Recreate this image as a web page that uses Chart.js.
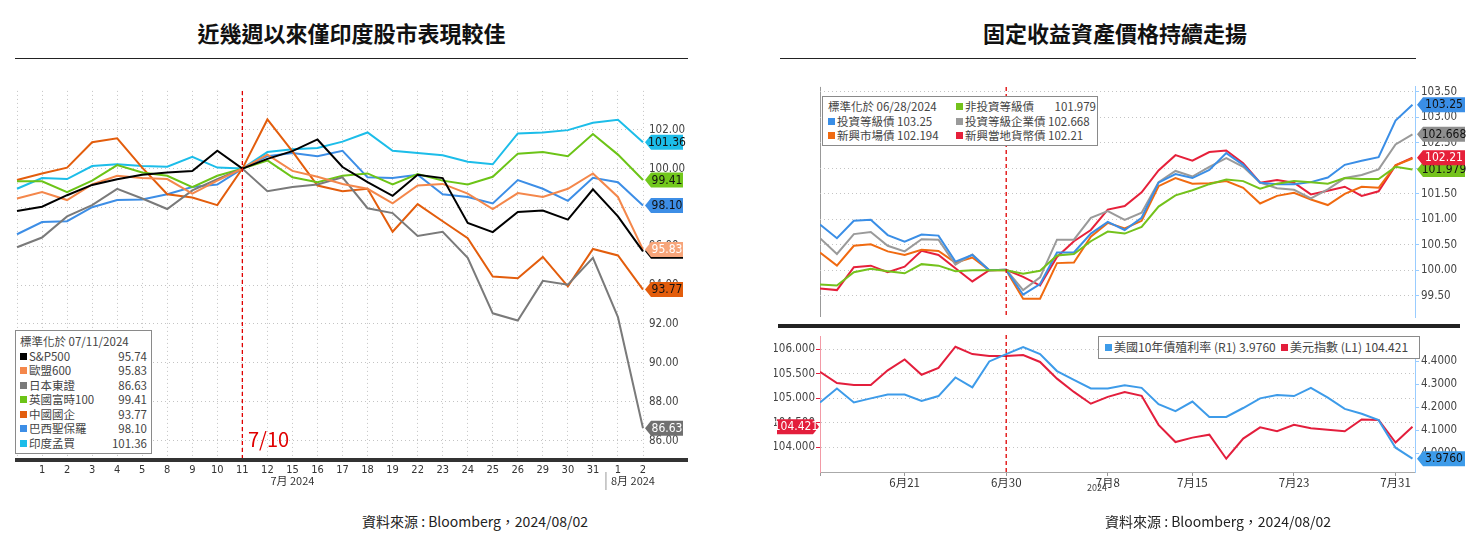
<!DOCTYPE html>
<html><head><meta charset="utf-8">
<script src="https://cdn.jsdelivr.net/npm/chart.js@4"></script>
<style>
body{margin:0;width:1467px;height:537px;background:#fff;position:relative;overflow:hidden;font-family:"Noto Sans CJK TC","Noto Sans",sans-serif;color:#222}
.abs{position:absolute}
.title{top:16px;font-size:22px;font-weight:bold;text-align:center;color:#111}
.rule{height:1px;background:#222;top:58px}
.src{top:511px;font-size:14px;color:#222}
.box{background:#fff;border:1px solid #8a8a8a;font-size:11.5px;line-height:14.5px;color:#444;box-sizing:border-box}
.sq{display:inline-block;width:7px;height:7px;margin-right:2px;vertical-align:1px}
.row{display:flex;justify-content:space-between;white-space:nowrap}
</style></head><body>

<div class="abs title" style="left:15px;width:673px">近幾週以來僅印度股市表現較佳</div>
<div class="abs rule" style="left:15px;width:673px"></div>
<div class="abs title" style="left:780px;width:670px">固定收益資產價格持續走揚</div>
<div class="abs rule" style="left:780px;width:636px"></div>

<div class="abs" style="left:15px;top:78px;width:673px;height:412px"><canvas id="eq"></canvas></div>
<div class="abs" style="left:774px;top:78px;width:693px;height:248px"><canvas id="bond"></canvas></div>
<div class="abs" style="left:778px;top:324px;width:682px;height:4px;background:#222"></div>
<div class="abs" style="left:774px;top:328px;width:693px;height:162px"><canvas id="macro"></canvas></div>

<div class="abs box" id="eqLegend" style="left:15px;top:330px;width:137px;padding:3px 4px"></div>
<div class="abs box" id="bondLegend" style="left:822px;top:96px;width:276px;padding:2px 5px"></div>
<div class="abs box" id="macroLegend" style="left:1098px;top:336px;width:322px;padding:3px 6px;font-size:12px"></div>
<div class="abs" style="left:248px;top:424px;font-size:20px;color:#e00000">7/10</div>
<div class="abs" style="left:1087px;top:481px;font-size:9px;color:#444">2024</div>

<div class="abs src" style="left:362px">資料來源 : Bloomberg，2024/08/02</div>
<div class="abs src" style="left:1105px">資料來源 : Bloomberg，2024/08/02</div>

<script>
// ---- left chart: equity indices, normalised ----
const eqDays = ['', '1', '2', '3', '4', '5', '8', '9', '10', '11', '12', '15', '16', '17', '18', '19', '22', '23', '24', '25', '26', '29', '30', '31', '1', '2'];
const eqNames = ['S&P500', '歐盟600', '日本東證', '英國富時100', '中國國企', '巴西聖保羅', '印度孟買'];
const eqColors = ['#000000', '#f4874b', '#7a7a7a', '#6cc417', '#e35d0c', '#3d8ee6', '#1cbde9'];
const spx = [97.82, 98.04, 98.63, 99.16, 99.45, 99.68, 99.80, 99.88, 100.92, 100, 100.5, 100.9, 101.5, 100.08, 99.3, 98.6, 99.68, 99.51, 97.2, 96.73, 97.77, 97.84, 97.37, 98.93, 97.54, 95.74];
const stoxx = [98.46, 98.79, 98.38, 99.18, 99.63, 99.51, 99.46, 98.71, 99.38, 100, 100.72, 99.88, 99.58, 99.21, 98.96, 98.21, 99.13, 99.21, 98.71, 97.92, 98.74, 98.54, 98.96, 99.75, 98.54, 95.83];
const topix = [95.95, 96.45, 97.54, 98.12, 98.96, 98.46, 97.92, 98.88, 99.46, 100, 98.84, 99.05, 99.18, 99.55, 97.96, 97.71, 96.53, 96.75, 95.41, 92.55, 92.18, 94.22, 94.02, 95.41, 92.35, 86.63];
const ftse = [99.35, 99.35, 98.79, 99.38, 100.18, 99.8, 99.63, 99.05, 99.63, 100, 100.42, 99.55, 99.3, 99.63, 99.75, 99.18, 99.72, 99.38, 99.18, 99.58, 100.77, 100.85, 100.64, 101.78, 100.72, 99.41];
const hscei = [99.41, 99.75, 100.05, 101.36, 101.56, 100.05, 98.68, 98.51, 98.12, 100, 102.53, 100.89, 99.13, 98.84, 98.96, 96.75, 98.17, 97.29, 96.42, 94.44, 94.36, 95.45, 93.94, 95.86, 95.53, 93.77];
const bovespa = [96.62, 97.25, 97.29, 98.01, 98.38, 98.41, 98.68, 99.05, 99.18, 100, 100.64, 100.8, 100.64, 100.92, 99.55, 99.51, 99.68, 98.68, 98.54, 98.21, 99.41, 98.96, 98.34, 99.53, 99.3, 98.10];
const sensex = [98.96, 99.51, 99.46, 100.13, 100.22, 100.13, 100.1, 100.6, 100.05, 100, 100.85, 101.0, 101.06, 101.39, 101.86, 100.92, 100.8, 100.69, 100.35, 100.22, 101.81, 101.86, 101.98, 102.36, 102.51, 101.36];
const eqSeries = [spx, stoxx, topix, ftse, hscei, bovespa, sensex];
const eqTicks = [86, 88, 90, 92, 94, 96, 98, 100, 102];

// ---- right top: fixed income, normalised ----
const fiDates = ['', '', '', '', '', '6月21', '', '', '', '', '', '6月30', '', '', '', '', '', '7月8', '', '', '', '', '7月15', '', '', '', '', '', '7月23', '', '', '', '', '', '7月31', ''];
const fiNames = ['非投資等級債', '投資等級債', '投資等級企業債', '新興市場債', '新興當地貨幣債'];
const fiColors = ['#74c21c', '#3a8ee6', '#9a9a9a', '#f06a10', '#e6203a'];
const highYield = [99.72, 99.70, 99.96, 100.03, 99.98, 99.94, 100.12, 100.09, 99.98, 100, 100, 100, 99.93, 99.99, 100.29, 100.32, 100.57, 100.76, 100.72, 100.85, 101.25, 101.47, 101.57, 101.69, 101.78, 101.75, 101.6, 101.70, 101.75, 101.73, 101.70, 101.81, 101.79, 101.79, 102.03, 101.979];
const invGrade = [100.90, 100.63, 100.97, 100.99, 100.69, 100.56, 100.70, 100.68, 100.17, 100.30, 100.0, 100.01, 99.52, 99.73, 100.35, 100.35, 100.72, 100.95, 100.79, 101.03, 101.72, 101.89, 101.81, 101.97, 102.30, 102.07, 101.72, 101.69, 101.69, 101.73, 101.82, 102.07, 102.15, 102.22, 102.94, 103.25];
const igCorp = [100.63, 100.32, 100.71, 100.75, 100.48, 100.37, 100.61, 100.6, 100.11, 100.31, 100, 100.01, 99.61, 99.86, 100.6, 100.6, 101.03, 101.16, 100.99, 101.13, 101.73, 101.95, 101.84, 102.03, 102.2, 102.03, 101.72, 101.61, 101.58, 101.41, 101.59, 101.81, 101.87, 101.98, 102.47, 102.668];
const emDebt = [100.35, 100.09, 100.48, 100.51, 100.37, 100.30, 100.40, 100.38, 100.15, 100.25, 100, 100, 99.44, 99.44, 100.14, 100.15, 100.66, 100.93, 100.82, 100.97, 101.65, 101.81, 101.70, 101.71, 101.75, 101.62, 101.31, 101.46, 101.52, 101.39, 101.28, 101.5, 101.64, 101.62, 102.06, 102.194];
const emLocal = [99.64, 99.61, 100.06, 100.09, 99.96, 100.07, 100.38, 100.30, 100.04, 99.78, 100, 100.01, 99.87, 99.70, 100.26, 100.57, 100.79, 101.19, 101.26, 101.53, 101.96, 102.26, 102.15, 102.32, 102.35, 102.10, 101.72, 101.77, 101.72, 101.49, 101.56, 101.64, 101.46, 101.55, 102.06, 102.21];
const fiSeries = [highYield, invGrade, igCorp, emDebt, emLocal];
const fiTicks = [99.5, 100, 100.5, 101, 101.5, 102, 102.5, 103, 103.5];

// ---- right bottom: UST 10y yield & DXY ----
const ust10y = [4.221, 4.282, 4.221, 4.239, 4.256, 4.256, 4.228, 4.249, 4.330, 4.287, 4.40, 4.432, 4.463, 4.432, 4.358, 4.320, 4.282, 4.282, 4.296, 4.285, 4.214, 4.183, 4.225, 4.158, 4.158, 4.197, 4.239, 4.254, 4.249, 4.285, 4.242, 4.193, 4.172, 4.144, 4.024, 3.976];
const dxy = [105.54, 105.31, 105.27, 105.27, 105.57, 105.79, 105.48, 105.62, 106.05, 105.90, 105.86, 105.86, 105.88, 105.74, 105.40, 105.13, 104.89, 105.03, 105.13, 105.05, 104.46, 104.11, 104.20, 104.26, 103.77, 104.18, 104.41, 104.33, 104.46, 104.39, 104.36, 104.33, 104.57, 104.56, 104.10, 104.421];
const dxyTicks = [104, 104.5, 105, 105.5, 106];
const ustTicks = [4.0, 4.1, 4.2, 4.3, 4.4];

const FONT = '"Liberation Sans Narrow","DejaVu Sans Condensed","Noto Sans",sans-serif';
const dotted = { color: '#c4c4c4', lineWidth: 1 };

function tagShape(ctx, x, y, w, h, pointLeft) {
    ctx.beginPath();
    if (pointLeft) {
        ctx.moveTo(x, y); ctx.lineTo(x + 6, y - h / 2); ctx.lineTo(x + w, y - h / 2);
        ctx.lineTo(x + w, y + h / 2); ctx.lineTo(x + 6, y + h / 2);
    } else {
        ctx.moveTo(x + w, y); ctx.lineTo(x + w - 6, y - h / 2); ctx.lineTo(x, y - h / 2);
        ctx.lineTo(x, y + h / 2); ctx.lineTo(x + w - 6, y + h / 2);
    }
    ctx.closePath();
    ctx.fill();
}

// Bloomberg style extras: value tags, dashed event line, axis bar, month labels
const extras = {
    id: 'extras',
    afterDatasetsDraw(chart, args, o) {
        const ctx = chart.ctx, a = chart.chartArea, xs = chart.scales.x;
        ctx.save();
        if (o.vline !== undefined) {
            const x = xs.getPixelForValue(o.vline);
            ctx.strokeStyle = '#e00000'; ctx.lineWidth = 1.3; ctx.setLineDash([4, 3]);
            ctx.beginPath(); ctx.moveTo(x, a.top - (o.vtop || 0)); ctx.lineTo(x, a.bottom); ctx.stroke();
            ctx.setLineDash([]);
        }
        if (o.bar) {
            ctx.fillStyle = '#333';
            ctx.fillRect(0, a.bottom, chart.width, 4);
        }
        (o.months || []).forEach(m => {
            ctx.fillStyle = '#333'; ctx.font = '11px "Noto Sans CJK TC"'; ctx.textAlign = 'center';
            ctx.fillText(m.text, xs.getPixelForValue(m.at), a.bottom + 27);
            if (m.sep !== undefined) {
                const sx = xs.getPixelForValue(m.sep);
                ctx.fillStyle = '#999'; ctx.fillRect(sx, a.bottom + 14, 1, 18);
            }
        });
        (o.tags || []).forEach(t => {
            const ds = chart.data.datasets[t.ds];
            const last = ds.data[ds.data.length - 1];
            const v = typeof last === 'object' ? last.y : last;
            const y = chart.scales[t.axis].getPixelForValue(v);
            const w = t.w || 38, h = 15;
            const x = t.left ? a.left - w - 1 : a.right + 2;
            ctx.fillStyle = t.bg;
            tagShape(ctx, x, y, w, h, !t.left);
            ctx.fillStyle = t.fg || '#fff';
            ctx.font = '12px ' + FONT; ctx.textAlign = 'center'; ctx.textBaseline = 'middle';
            ctx.fillText(v.toFixed(t.dp), x + (t.left ? w / 2 - 2 : w / 2 + 3), y + 0.5);
        });
        ctx.restore();
    }
};

function fixedTicks(list) {
    return s => { s.ticks = list.map(v => ({ value: v })); };
}

// ---- build left chart ----
new Chart(document.getElementById('eq'), {
    type: 'line',
    data: {
        labels: eqDays,
        datasets: eqSeries.map((d, i) => ({
            label: eqNames[i], data: d, borderColor: eqColors[i],
            borderWidth: 2, pointRadius: 0, tension: 0, order: i === 0 ? 0 : 1
        }))
    },
    plugins: [extras],
    options: {
        animation: false, responsive: true, maintainAspectRatio: false,
        layout: { padding: { top: 2 } },
        plugins: {
            legend: { display: false }, tooltip: { enabled: false },
            extras: {
                vline: 9, bar: true,
                months: [{ text: '7月 2024', at: 11 }, { text: '8月 2024', at: 24.6, sep: 23.5 }],
                tags: [
                    { ds: 0, axis: 'y', bg: '#000', dp: 2 },
                    { ds: 1, axis: 'y', bg: '#f7a57a', dp: 2 },
                    { ds: 2, axis: 'y', bg: '#707070', dp: 2 },
                    { ds: 3, axis: 'y', bg: '#72c81c', fg: '#111', dp: 2 },
                    { ds: 4, axis: 'y', bg: '#e35d0c', fg: '#111', dp: 2 },
                    { ds: 5, axis: 'y', bg: '#3d8ee6', fg: '#111', dp: 2 },
                    { ds: 6, axis: 'y', bg: '#1cbde9', fg: '#111', dp: 2 }
                ]
            }
        },
        scales: {
            x: {
                offset: false,
                grid: { ...dotted, drawTicks: true, tickLength: 4 },
                border: { display: false, dash: [1, 3] },
                ticks: { color: '#333', font: { size: 11, family: FONT }, maxRotation: 0, autoSkip: false, padding: 2 },
                afterFit: s => { s.height = 32; }
            },
            y: {
                position: 'right', min: 85.1, max: 104,
                afterBuildTicks: fixedTicks(eqTicks),
                grid: { ...dotted, drawTicks: false },
                border: { display: false, dash: [1, 3] },
                ticks: { color: '#444', font: { size: 11.5, family: FONT }, padding: 6, callback: v => v.toFixed(2) },
                afterFit: s => { s.width = 45; }
            }
        }
    }
});

// ---- build right top chart ----
const xIdx = d => d.map((v, i) => ({ x: i, y: v }));
const fiX = {
    type: 'linear', min: 0, max: 35.15,
    afterBuildTicks: fixedTicks(fiDates.map((t, i) => i).filter(i => fiDates[i] !== '' || i === 0)),
    grid: { display: false },
    border: { display: false }
};

new Chart(document.getElementById('bond'), {
    type: 'line',
    data: {
        datasets: fiSeries.map((d, i) => ({
            label: fiNames[i], data: xIdx(d), borderColor: fiColors[i],
            borderWidth: 2, pointRadius: 0, tension: 0
        }))
    },
    plugins: [extras],
    options: {
        animation: false, responsive: true, maintainAspectRatio: false,
        layout: { padding: { left: 46, top: 2, bottom: 1 } },
        plugins: {
            legend: { display: false }, tooltip: { enabled: false },
            extras: {
                vline: 11,
                tags: [
                    { ds: 0, axis: 'y', bg: '#74c21c', fg: '#111', dp: 3, w: 48 },
                    { ds: 4, axis: 'y', bg: '#e6203a', dp: 2, w: 48 },
                    { ds: 2, axis: 'y', bg: '#8e8e8e', fg: '#111', dp: 3, w: 48 },
                    { ds: 1, axis: 'y', bg: '#3a8ee6', fg: '#111', dp: 2, w: 48 }
                ]
            }
        },
        scales: {
            x: { ...fiX, ticks: { display: false }, grid: { color: c => c.tick && c.tick.value === 0 ? '#999' : 'transparent', drawTicks: false } },
            y: {
                position: 'right', min: 99.08, max: 103.6,
                afterBuildTicks: fixedTicks(fiTicks),
                grid: { ...dotted, tickLength: 4, tickColor: '#9cf' },
                border: { color: '#9cf', dash: [1, 3] },
                ticks: { color: '#444', font: { size: 11.5, family: FONT }, padding: 2, callback: v => v.toFixed(2) },
                afterFit: s => { s.width = 52; }
            }
        }
    }
});

// ---- build right bottom chart ----
new Chart(document.getElementById('macro'), {
    type: 'line',
    data: {
        datasets: [
            { label: '美國10年債殖利率 (R1)', data: xIdx(ust10y), yAxisID: 'yR', borderColor: '#3d9be9', borderWidth: 2, pointRadius: 0, tension: 0 },
            { label: '美元指數 (L1)', data: xIdx(dxy), yAxisID: 'yL', borderColor: '#e31e3c', borderWidth: 2, pointRadius: 0, tension: 0 }
        ]
    },
    plugins: [extras],
    options: {
        animation: false, responsive: true, maintainAspectRatio: false,
        layout: { padding: { top: 2 } },
        plugins: {
            legend: { display: false }, tooltip: { enabled: false },
            extras: {
                vline: 11, vtop: 2,
                tags: [
                    { ds: 1, axis: 'yL', bg: '#e31e3c', dp: 3, w: 42, left: true },
                    { ds: 0, axis: 'yR', bg: '#3d9be9', fg: '#111', dp: 4, w: 48 }
                ]
            }
        },
        scales: {
            x: {
                ...fiX,
                grid: { display: true, drawOnChartArea: false, tickLength: 4, color: '#999' },
                border: { display: true, color: '#aaa' },
                ticks: { color: '#333', font: { size: 11.5, family: '"Noto Sans CJK TC"' }, maxRotation: 0, autoSkip: false, padding: 0, callback: v => fiDates[v] || '' },
                afterFit: s => { s.height = 18; }
            },
            yL: {
                position: 'left', min: 103.5, max: 106.25,
                afterBuildTicks: fixedTicks(dxyTicks),
                grid: { ...dotted, tickLength: 4, tickColor: '#e31e3c' },
                border: { color: '#f29aa6', dash: [1, 3] },
                ticks: { color: '#444', font: { size: 11.5, family: FONT }, padding: 1, callback: v => v.toFixed(3) },
                afterFit: s => { s.width = 46; }
            },
            yR: {
                position: 'right', min: 3.918, max: 4.507,
                afterBuildTicks: fixedTicks(ustTicks),
                grid: { drawOnChartArea: false, tickLength: 4, tickColor: '#9cf' },
                border: { color: '#9cf' },
                ticks: { color: '#444', font: { size: 11.5, family: FONT }, padding: 2, callback: v => v.toFixed(4) },
                afterFit: s => { s.width = 52; }
            }
        }
    }
});

// ---- legends (HTML text) ----
const sq = c => `<span class="sq" style="background:${c}"></span>`;
document.getElementById('eqLegend').innerHTML =
    '<div>標準化於 07/11/2024</div>' +
    eqNames.map((n, i) => `<div class="row"><span>${sq(eqColors[i])}${n}</span><span>${eqSeries[i][eqSeries[i].length - 1].toFixed(2)}</span></div>`).join('');

const fiLast = i => fiSeries[i][fiSeries[i].length - 1];
document.getElementById('bondLegend').innerHTML =
    `<div style="display:grid;grid-template-columns:128px 140px">
      <span>標準化於 06/28/2024</span><span class="row"><span>${sq(fiColors[0])}${fiNames[0]}</span><span>${fiLast(0)}</span></span>
      <span>${sq(fiColors[1])}${fiNames[1]} ${fiLast(1)}</span><span>${sq(fiColors[2])}${fiNames[2]} ${fiLast(2)}</span>
      <span>${sq(fiColors[3])}${fiNames[3]} ${fiLast(3)}</span><span>${sq(fiColors[4])}${fiNames[4]} ${fiLast(4)}</span>
    </div>`;

document.getElementById('macroLegend').innerHTML =
    `${sq('#3d9be9')}美國10年債殖利率 (R1) ${ust10y[ust10y.length - 1].toFixed(4)}&nbsp;&nbsp;${sq('#e31e3c')}美元指數 (L1) ${dxy[dxy.length - 1].toFixed(3)}`;
</script>
</body></html>
